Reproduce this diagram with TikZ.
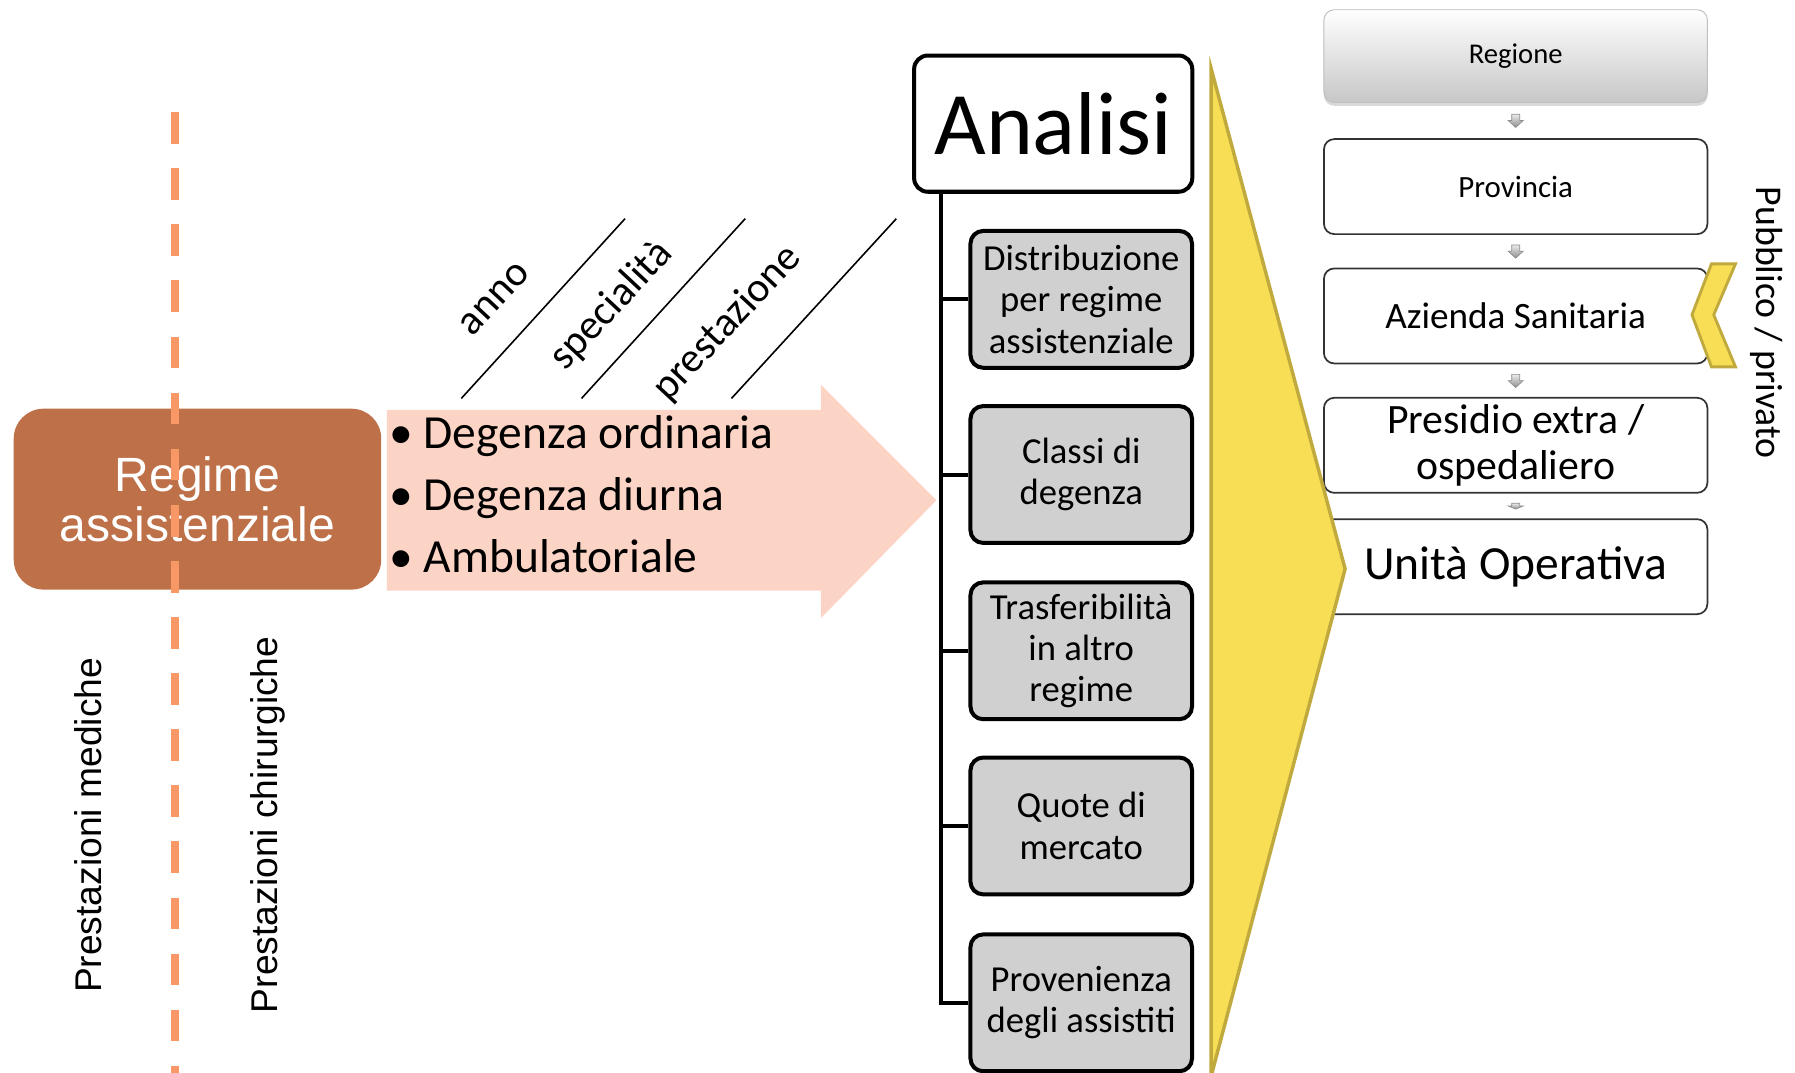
\documentclass[tikz,border=0pt]{standalone}
\usepackage{fontspec}
\setmainfont{Carlito}
\newfontfamily\arialf{Liberation Sans}
\usetikzlibrary{shadows,calc}

\definecolor{regimebrown}{RGB}{190,112,72}
\definecolor{dashorange}{RGB}{248,152,102}
\definecolor{pinkarrow}{RGB}{252,212,198}
\definecolor{boxgrey}{RGB}{208,208,208}
\definecolor{yellowfill}{RGB}{247,222,84}
\definecolor{yellowedge}{RGB}{192,170,62}

\tikzset{
  downarrowpic/.pic={
    \path[draw=black!45, line width=0.6pt, top color=black!8, bottom color=black!45]
      (-3.5,-5.5) -- (3.5,-5.5) -- (3.5,0) -- (6.5,0) -- (0,6) -- (-6.5,0) -- (-3.5,0) -- cycle;
  }
}

\begin{document}
\begin{tikzpicture}[x=1pt,y=-1pt,
  greybox/.style={draw=black, line width=3.5pt, fill=boxgrey, rounded corners=11pt,
    minimum width=193.5pt, minimum height=119.5pt, align=center, inner sep=0pt,
    font=\fontsize{32}{36}\selectfont},
  rightbox/.style={draw=black!80, line width=1.5pt, fill=white, rounded corners=9pt,
    minimum width=335pt, minimum height=83pt, align=center, inner sep=0pt},
  trunk/.style={line width=3.5pt},
  diagline/.style={line width=1.4pt},
  diaglabel/.style={rotate=47, inner sep=0pt, font=\fontsize{36.5}{40}\selectfont},
  bullettext/.style={anchor=base west, inner sep=0pt, font=\fontsize{41.5}{48}\selectfont},
  sidelabel/.style={anchor=base, inner sep=0pt, font=\arialf\fontsize{32.5}{36}\selectfont},
  yellowshape/.style={fill=yellowfill, draw=yellowedge, line width=3pt, line join=miter}
]
\useasboundingbox (0,0) rectangle (1568,937);

% pink arrow
\path[fill=pinkarrow] (338,358) -- (717,358) -- (717,336) -- (818,437) -- (717,540) -- (717,516) -- (338,516) -- cycle;

% Regime box
\node[fill=regimebrown, rounded corners=26pt, minimum width=321pt, minimum height=158pt,
  text=white, align=center, inner sep=0pt, font=\arialf\fontsize{42}{44}\selectfont]
  (regime) at (172.5,436) {Regime\\assistenziale};

% dashed orange line
\coordinate (dtop) at (153,98);
\coordinate (dbot) at (153,937);
\draw[dashorange, line width=7.5pt, dash pattern=on 27.7pt off 21.3pt] (dtop) -- (dbot);

% side labels
\node[sidelabel, rotate=90] (med) at (89,721) {Prestazioni mediche};
\node[sidelabel, rotate=90] (chir) at (242,720.5) {Prestazioni chirurgiche};

% bullets
\node[bullettext] (b1) at (340,391.5) {\makebox[30pt][l]{\textbullet}Degenza ordinaria};
\node[bullettext] (b2) at (340,445.5) {\makebox[30pt][l]{\textbullet}Degenza diurna};
\node[bullettext] (b3) at (340,500) {\makebox[30pt][l]{\textbullet}Ambulatoriale};

% diagonal lines and labels
\coordinate (l1a) at (403,348); \coordinate (l1b) at (546,191);
\coordinate (l2a) at (508,348); \coordinate (l2b) at (651,191);
\coordinate (l3a) at (639,348); \coordinate (l3b) at (783,191);
\draw[diagline] (l1a) -- (l1b);
\draw[diagline] (l2a) -- (l2b);
\draw[diagline] (l3a) -- (l3b);
\node[diaglabel] (anno) at (432,261) {anno};
\node[diaglabel] (spec) at (534,267) {specialità};
\node[diaglabel] (prest) at (635.5,282.5) {prestazione};

% Analisi tree
\node[draw=black, line width=3.5pt, fill=white, rounded corners=12pt, minimum width=243pt,
  minimum height=119pt, inner sep=0pt, font=\fontsize{78}{80}\selectfont]
  (analisi) at (920,108) {Analisi};

\node[greybox] (g1) at (944.5,261.5) {Distribuzione\\per regime\\assistenziale};
\node[greybox] (g2) at (944.5,414.5) {Classi di\\degenza};
\node[greybox] (g3) at (944.5,568.5) {Trasferibilità\\in altro\\regime};
\node[greybox] (g4) at (944.5,721.5) {Quote di\\mercato};
\node[greybox] (g5) at (944.5,876) {Provenienza\\degli assistiti};

\coordinate (trunktop) at (822,167);
\draw[trunk] (trunktop) |- (g5.west);
\foreach \g in {g1,g2,g3,g4} {
  \draw[trunk] (\g.west) -- (\g.west -| trunktop);
}

% right column
\node[rightbox, top color=white, bottom color=black!22, draw=black!25, line width=0.8pt,
  minimum height=81pt, drop shadow={shadow xshift=0pt, shadow yshift=-3pt, opacity=0.3},
  font=\fontsize{25}{30}\selectfont] (reg) at (1324,49) {Regione};
\node[rightbox, font=\fontsize{27}{32}\selectfont] (prov) at (1324,163) {Provincia};
\node[rightbox, font=\fontsize{32.5}{38}\selectfont] (azi) at (1324,276) {Azienda Sanitaria};
\node[rightbox, font=\fontsize{36.5}{40}\selectfont] (pres) at (1324,389) {Presidio extra /\\ospedaliero};
\node[rightbox, font=\fontsize{41.5}{44}\selectfont] (uo) at (1324,495) {Unità Operativa};

\pic at ($(reg.south)!0.5!(prov.north)$) {downarrowpic};
\pic at ($(prov.south)!0.5!(azi.north)$) {downarrowpic};
\pic at ($(azi.south)!0.5!(pres.north)$) {downarrowpic};
\pic[yscale=0.45] at ($(pres.south)!0.5!(uo.north)$) {downarrowpic};

% big yellow chevron
\draw[yellowshape] (1058,60) -- (1175,497) -- (1058,940) -- cycle;

% small yellow chevron
\draw[yellowshape, line width=2.5pt] (1495,230.5) -- (1516,230.5) -- (1497,275) -- (1516,320.5) -- (1495,320.5) -- (1478,275) -- cycle;

% Pubblico / privato
\node[anchor=base, inner sep=0pt, rotate=-90, font=\fontsize{33}{36}\selectfont] (pubpriv) at (1534,282) {Pubblico / privato};

\end{tikzpicture}
\end{document}
